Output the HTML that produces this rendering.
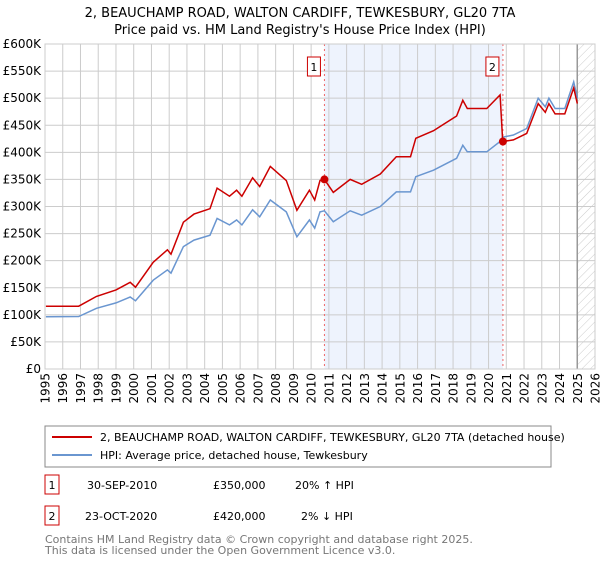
<!DOCTYPE html>
<html><head><meta charset="utf-8"><style>
body{margin:0;background:#fff;font-family:"DejaVu Sans","Liberation Sans",sans-serif;}
svg text{font-family:"DejaVu Sans","Liberation Sans",sans-serif;}
</style></head><body>
<svg id="c" width="600" height="560" xmlns="http://www.w3.org/2000/svg">
<defs><pattern id="hatch" width="6" height="6" patternUnits="userSpaceOnUse" patternTransform="rotate(45)"><line x1="0" y1="0" x2="0" y2="6" stroke="#ccc" stroke-width="1"/></pattern></defs>
<text x="300" y="17" text-anchor="middle" font-size="13">2, BEAUCHAMP ROAD, WALTON CARDIFF, TEWKESBURY, GL20 7TA</text>
<text x="300" y="34" text-anchor="middle" font-size="13">Price paid vs. HM Land Registry's House Price Index (HPI)</text>
<g id="plot"></g>
<rect x="45" y="426" width="506" height="41" fill="#fff" stroke="#888"/>
<line x1="52" y1="437" x2="92" y2="437" stroke="#cc0000" stroke-width="2"/>
<text x="100" y="441" font-size="11">2, BEAUCHAMP ROAD, WALTON CARDIFF, TEWKESBURY, GL20 7TA (detached house)</text>
<line x1="52" y1="455" x2="92" y2="455" stroke="#6a96d0" stroke-width="2"/>
<text x="100" y="459" font-size="11">HPI: Average price, detached house, Tewkesbury</text>
<g>
<rect x="45" y="475" width="14" height="19" fill="#fff" stroke="#cc0000"/>
<text x="52" y="489" font-size="11" text-anchor="middle">1</text>
<text x="87" y="489" font-size="11">30-SEP-2010</text>
<text x="213" y="489" font-size="11">£350,000</text>
<text x="295" y="489" font-size="11">20% ↑ HPI</text></g>
<g>
<rect x="45" y="506" width="14" height="19" fill="#fff" stroke="#cc0000"/>
<text x="52" y="520" font-size="11" text-anchor="middle">2</text>
<text x="85" y="520" font-size="11">23-OCT-2020</text>
<text x="213" y="520" font-size="11">£420,000</text>
<text x="301" y="520" font-size="11">2% ↓ HPI</text></g>
<text x="45" y="543" font-size="11" fill="#777">Contains HM Land Registry data © Crown copyright and database right 2025.</text>
<text x="45" y="554" font-size="11" fill="#777">This data is licensed under the Open Government Licence v3.0.</text>
</svg>
<script>
const hpiYears=[1995.05,1996.9,1997.9,1999.0,1999.8,2000.1,2001.1,2001.9,2002.1,2002.8,2003.4,2004.3,2004.7,2005.4,2005.8,2006.1,2006.7,2007.1,2007.7,2008.6,2009.2,2009.9,2010.2,2010.5,2010.75,2011.25,2012.2,2012.85,2013.9,2014.8,2015.6,2015.9,2016.9,2018.2,2018.55,2018.8,2019.9,2020.65,2020.8,2021.4,2022.15,2022.8,2023.2,2023.4,2023.75,2024.3,2024.8,2025.0];
const hpiValues=[96.6,97,112,122,133,126,164,183,177,226,238,247,278,266,275,266,294,281,312,290,244,275,260,290,292,272,292,284,300,327,327,355,367,389,413,401,401,420,428,432,444,500,484,500,481,481,530,500];
const priceYears=[1995.05,1996.9,1997.9,1999.0,1999.8,2000.1,2001.1,2001.9,2002.1,2002.8,2003.4,2004.3,2004.7,2005.4,2005.8,2006.1,2006.7,2007.1,2007.7,2008.6,2009.2,2009.9,2010.2,2010.5,2010.75,2011.25,2012.2,2012.85,2013.9,2014.8,2015.6,2015.9,2016.9,2018.2,2018.55,2018.8,2019.9,2020.65,2020.8,2021.4,2022.15,2022.8,2023.2,2023.4,2023.75,2024.3,2024.8,2025.0];
const priceValues=[116,116,134,146,160,151,197,220,212,271,286,296,334,319,330,319,353,337,374,348,293,330,312,348,350,326,350,341,360,392,392,426,440,467,496,481,481,506,420,423,435,490,474,490,471,471,519,490];
const saleYears=[2010.75,2020.81];
const saleValues=[350,420];
const saleLabels=["1","2"];
const yTicks=[0,50,100,150,200,250,300,350,400,450,500,550,600];
const yTickLabels=["£0","£50K","£100K","£150K","£200K","£250K","£300K","£350K","£400K","£450K","£500K","£550K","£600K"];
const xTicks=[1995,1996,1997,1998,1999,2000,2001,2002,2003,2004,2005,2006,2007,2008,2009,2010,2011,2012,2013,2014,2015,2016,2017,2018,2019,2020,2021,2022,2023,2024,2025,2026];

const L=45,R=595,T=44,B=369;
const X=y=>L+(y-1995)/(2026-1995)*(R-L);
const Y=v=>B-v/600*(B-T);
const NS="http://www.w3.org/2000/svg";
const g=document.getElementById('plot');
function mk(t,a){const e=document.createElementNS(NS,t);for(const k in a)e.setAttribute(k,a[k]);g.appendChild(e);return e;}
let e;
e=mk('rect',{x:X(saleYears[0]),y:T,width:X(saleYears[1])-X(saleYears[0]),height:B-T,fill:'#eef3fd'});


e=mk('rect',{x:X(2025),y:T,width:R-X(2025),height:B-T,fill:'url(#hatch)'});


yTicks.forEach((v,i)=>{
 e=mk('line',{x1:L,x2:R,y1:Y(v),y2:Y(v),stroke:'#ccc'});
 
 
 e=mk('text',{x:L-4,y:Y(v)+4,'text-anchor':'end','font-size':12});e.textContent=yTickLabels[i];
 
 
});
xTicks.forEach(t=>{
 e=mk('line',{x1:X(t),x2:X(t),y1:T,y2:B,stroke:'#ccc'});
 
 
 const xx=X(t)+4.5, yy=B+4;
 e=mk('text',{x:xx,y:yy,'text-anchor':'end','font-size':12,transform:'rotate(-90 '+xx+' '+yy+')'});e.textContent=t;
 
 
});
e=mk('line',{x1:X(2025),x2:X(2025),y1:T,y2:B,stroke:'#999','stroke-width':1.5});


saleYears.forEach(s=>{
 e=mk('line',{x1:X(s),x2:X(s),y1:T,y2:B,stroke:'#e66','stroke-dasharray':'2,3'});
 
 
});
function path(xs,vs){return xs.map((x,i)=>(i?'L':'M')+X(x).toFixed(1)+','+Y(vs[i]).toFixed(1)).join('');}
e=mk('path',{d:path(hpiYears,hpiValues),fill:'none',stroke:'#6a96d0','stroke-width':1.5});


e=mk('path',{d:path(priceYears,priceValues),fill:'none',stroke:'#cc0000','stroke-width':1.5});


saleYears.forEach((s,i)=>{
 e=mk('circle',{cx:X(s),cy:Y(saleValues[i]),r:4,fill:'#cc0000'});
 
 
 e=mk('rect',{x:X(s)-17,y:57,width:13,height:19,fill:'#fff',stroke:'#cc0000'});
 
 
 e=mk('text',{x:X(s)-10.5,y:71,'text-anchor':'middle','font-size':11});e.textContent=saleLabels[i];
 
 
});
e=mk('rect',{x:L,y:T,width:R-L,height:B-T,fill:'none',stroke:'#ccc'});


</script>
</body></html>
